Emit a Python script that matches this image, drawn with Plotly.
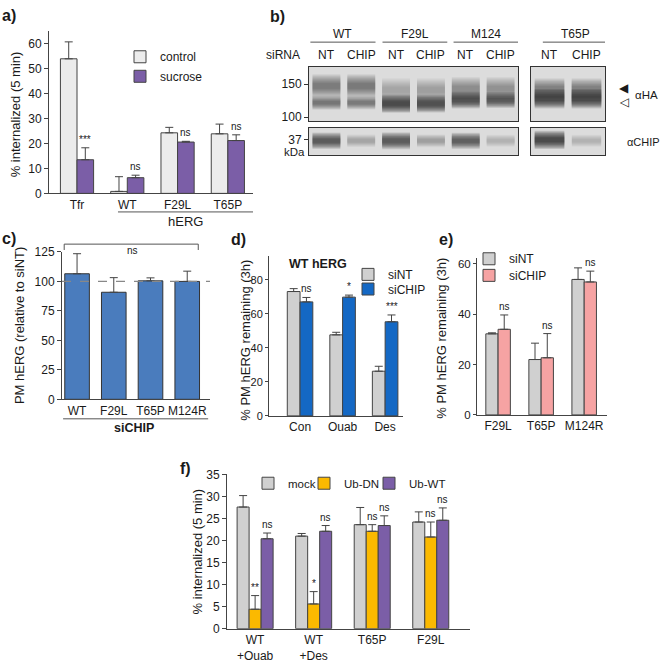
import plotly.graph_objects as go

W, H = 660, 663
FONT = "Liberation Sans, Arial, sans-serif"
AX = "#444444"
TXT = "#1a1a1a"


def X(px):
    return px / W


def Y(py):
    return 1 - py / H


# ---------------- data ----------------
# panel a
a_groups = ["Tfr", "WT", "F29L", "T65P"]
a_control = [54.0, 0.8, 24.3, 23.9]
a_control_err = [6.8, 5.9, 2.2, 3.9]
a_sucrose = [13.5, 6.3, 20.6, 21.2]
a_sucrose_err = [4.8, 1.0, 0.3, 2.3]
a_sig = ["***", "ns", "ns", "ns"]

# panel b (western blot band estimates)
blot_lanes = ["NT", "CHIP", "NT", "CHIP", "NT", "CHIP"]
blot_constructs = ["WT", "F29L", "M124"]
t65p_lanes = ["NT", "CHIP"]
ha_upper_kda = [147, 147, 141, 141, 143, 143]
ha_upper_int = [0.5, 0.55, 0.25, 0.3, 0.4, 0.35]
ha_lower_kda = [122, 122, 120.5, 120.5, 126, 126]
ha_lower_int = [0.6, 0.55, 1.0, 0.95, 0.9, 0.8]
t65p_upper_kda = [143, 143]
t65p_upper_int = [0.45, 0.45]
t65p_lower_kda = [128, 128]
t65p_lower_int = [1.0, 1.0]
chip_kda = [36.4, 36.4, 36.4, 36.4, 36.4, 36.4]
chip_int = [0.8, 0.25, 0.85, 0.3, 0.75, 0.2]
t65p_chip_kda = [36.8, 36.4]
t65p_chip_int = [1.0, 0.2]
mw_ticks_ha = [100, 150]
mw_ticks_chip = [37]

# panel c
c_groups = ["WT", "F29L", "T65P", "M124R"]
c_vals = [106.5, 90.8, 100.5, 100.0]
c_err = [17.0, 12.4, 2.5, 8.7]

# panel d
d_groups = ["Con", "Ouab", "Des"]
d_sint = [73.2, 47.7, 26.3]
d_sint_err = [1.7, 1.5, 2.9]
d_sichip = [67.1, 69.9, 55.4]
d_sichip_err = [2.6, 1.2, 4.0]
d_sig = ["ns", "*", "***"]

# panel e
e_groups = ["F29L", "T65P", "M124R"]
e_sint = [32.2, 22.0, 53.8]
e_sint_err = [0.4, 6.5, 4.6]
e_sichip = [34.0, 22.7, 52.8]
e_sichip_err = [5.7, 9.6, 4.3]
e_sig = ["ns", "ns", "ns"]

# panel f
f_groups = ["WT<br>+Ouab", "WT<br>+Des", "T65P", "F29L"]
f_mock = [27.6, 21.0, 23.6, 24.2]
f_mock_err = [2.6, 0.6, 3.9, 2.3]
f_dn = [4.4, 5.6, 22.1, 20.8]
f_dn_err = [3.1, 2.8, 1.5, 3.4]
f_wt = [20.4, 22.1, 23.4, 24.6]
f_wt_err = [1.3, 1.3, 2.2, 2.8]
f_sig_dn = ["**", "*", "ns", "ns"]
f_sig_wt = ["ns", "ns", "ns", "ns"]

# ---------------- colours ----------------
C_LIGHT = "#ececec"
C_PURPLE = "#7b5ea7"
C_BLUE_C = "#4a7cbd"
C_GRAY = "#d0d0d0"
C_BLUE_D = "#1468c4"
C_PINK = "#f6a3a3"
C_GOLD = "#fbb900"

fig = go.Figure()
annotations = []
shapes = []


def add_bars(cats, vals, errs, color, xa, ya, offset, width, name, legend, edge=AX):
    fig.add_trace(go.Bar(
        x=cats, y=vals, name=name, legend=legend, showlegend=legend is not None,
        offset=offset, width=width,
        marker=dict(color=color, line=dict(color=edge, width=1)),
        error_y=dict(type="data", array=errs, arrayminus=[0] * len(errs),
                     symmetric=False, color=AX, thickness=1, width=4),
        xaxis=xa, yaxis=ya, hoverinfo="skip"))


def add_sig(labels, vals, errs, offset, width, xa, ya, size=10):
    for i, (lab, v, e) in enumerate(zip(labels, vals, errs)):
        if not lab:
            continue
        annotations.append(dict(
            text=lab, x=i + offset + width / 2, y=v + e, xref=xa, yref=ya,
            yanchor="bottom", xanchor="center", showarrow=False, yshift=1,
            font=dict(size=size, color=TXT, family=FONT)))


# ---- panel a
add_bars(a_groups, a_control, a_control_err, C_LIGHT, "x", "y", -0.33, 0.33, "control", "legend")
add_bars(a_groups, a_sucrose, a_sucrose_err, C_PURPLE, "x", "y", 0.0, 0.33, "sucrose", "legend2")
add_sig(a_sig, a_sucrose, a_sucrose_err, 0.0, 0.33, "x", "y")

# ---- panel b bands (soft, layered strokes)
N_LAYERS = 10
BAND_LAYERS = [(2.6 - 2.0 * k / (N_LAYERS - 1), 0.075) for k in range(N_LAYERS)]


def band(xa, ya, lane, kda, inten, thick, halfw=0.4):
    for wmul, amul in BAND_LAYERS:
        fig.add_trace(go.Scatter(
            x=[lane - halfw, lane + halfw], y=[kda, kda], mode="lines",
            line=dict(color=f"rgba(25,25,25,{min(inten * amul * 1.6, 1):.3f})", width=thick * wmul),
            xaxis=xa, yaxis=ya, showlegend=False, hoverinfo="skip"))


for i, _ in enumerate(blot_lanes):
    band("x2", "y2", i, ha_upper_kda[i], ha_upper_int[i], 9)
    band("x2", "y2", i, ha_lower_kda[i], ha_lower_int[i], 3 + 4 * ha_lower_int[i])
    band("x4", "y4", i, chip_kda[i], chip_int[i], 4 + 3 * chip_int[i])
for i, _ in enumerate(t65p_lanes):
    band("x3", "y3", i, t65p_upper_kda[i], t65p_upper_int[i], 8)
    band("x3", "y3", i, t65p_lower_kda[i], t65p_lower_int[i], 3 + 4.5 * t65p_lower_int[i])
    band("x5", "y5", i, t65p_chip_kda[i], t65p_chip_int[i], 4 + 3 * t65p_chip_int[i])

# ---- panel c
add_bars(c_groups, c_vals, c_err, C_BLUE_C, "x6", "y6", -0.335, 0.67, "siCHIP", None, edge="#333333")

# ---- panel d
add_bars(d_groups, d_sint, d_sint_err, C_GRAY, "x7", "y7", -0.30, 0.30, "siNT", "legend3")
add_bars(d_groups, d_sichip, d_sichip_err, C_BLUE_D, "x7", "y7", 0.0, 0.30, "siCHIP", "legend4")
add_sig(d_sig, d_sichip, d_sichip_err, 0.0, 0.30, "x7", "y7")

# ---- panel e
add_bars(e_groups, e_sint, e_sint_err, C_GRAY, "x8", "y8", -0.285, 0.285, "siNT", "legend5")
add_bars(e_groups, e_sichip, e_sichip_err, C_PINK, "x8", "y8", 0.0, 0.285, "siCHIP", "legend6")
add_sig(e_sig, e_sichip, e_sichip_err, 0.0, 0.285, "x8", "y8")

# ---- panel f
add_bars(f_groups, f_mock, f_mock_err, C_GRAY, "x9", "y9", -0.3075, 0.205, "mock", "legend7")
add_bars(f_groups, f_dn, f_dn_err, C_GOLD, "x9", "y9", -0.1025, 0.205, "Ub-DN", "legend8")
add_bars(f_groups, f_wt, f_wt_err, C_PURPLE, "x9", "y9", 0.1025, 0.205, "Ub-WT", "legend9")
add_sig(f_sig_dn, f_dn, f_dn_err, -0.1025, 0.205, "x9", "y9")
add_sig(f_sig_wt, f_wt, f_wt_err, 0.1025, 0.205, "x9", "y9")

# ---------------- axes ----------------
def yax(domain_px, rng, dtick, anchor, size=12, ticklen=4):
    return dict(domain=[Y(domain_px[1]), Y(domain_px[0])], range=rng, anchor=anchor,
                showline=True, linecolor=AX, linewidth=1, ticks="outside", ticklen=ticklen,
                tickcolor=AX, showgrid=False, zeroline=False, dtick=dtick, tick0=0,
                tickfont=dict(size=size, color=TXT, family=FONT))


def xax(domain_px, rng, cats, anchor, size=12):
    return dict(domain=[X(domain_px[0]), X(domain_px[1])], range=rng, anchor=anchor,
                type="category", categoryorder="array", categoryarray=cats,
                showline=True, linecolor=AX, linewidth=1, ticks="", showgrid=False,
                zeroline=False, tickfont=dict(size=size, color=TXT, family=FONT))


def blot_x(domain_px, rng, anchor):
    return dict(domain=[X(domain_px[0]), X(domain_px[1])], range=rng, anchor=anchor,
                showline=True, mirror=True, linecolor="#333333", linewidth=1,
                ticks="", showticklabels=False, showgrid=False, zeroline=False)


def blot_y(domain_px, rng, anchor, tickvals=None):
    d = dict(domain=[Y(domain_px[1]), Y(domain_px[0])], range=rng, anchor=anchor,
             showline=True, mirror=True, linecolor="#333333", linewidth=1,
             showgrid=False, zeroline=False)
    if tickvals:
        d.update(tickvals=tickvals, ticks="outside", ticklen=4, tickcolor="#333333",
                 tickfont=dict(size=12, color=TXT, family=FONT))
    else:
        d.update(ticks="", showticklabels=False)
    return d


layout_axes = dict(
    xaxis=xax((49, 253), [-0.557, 3.5], a_groups, "y"),
    yaxis=yax((25, 191), [0, 65], 10, "x"),
    xaxis2=blot_x((309, 518), [-0.5, 5.5], "y2"),
    yaxis2=blot_y((61, 117), [94, 176.5], "x2", mw_ticks_ha),
    xaxis3=blot_x((531, 605), [-0.5, 1.5], "y3"),
    yaxis3=blot_y((61, 117), [94, 176.5], "x3"),
    xaxis4=blot_x((309, 518), [-0.5, 5.5], "y4"),
    yaxis4=blot_y((124, 152), [30, 42], "x4", mw_ticks_chip),
    xaxis5=blot_x((531, 605), [-0.5, 1.5], "y5"),
    yaxis5=blot_y((124, 152), [30, 42], "x5"),
    xaxis6=xax((62, 210), [-0.41, 3.62], c_groups, "y6"),
    yaxis6=yax((251, 402), [0, 125], 25, "x6"),
    xaxis7=xax((269, 403), [-0.73, 2.42], d_groups, "y7"),
    yaxis7=yax((255, 419), [0, 94.2], 20, "x7", size=11, ticklen=3),
    xaxis8=xax((477, 607), [-0.49, 2.53], e_groups, "y8"),
    yaxis8=yax((257, 418), [0, 62.4], 20, "x8", size=11.5, ticklen=3),
    xaxis9=xax((227, 470), [-0.48, 3.67], f_groups, "y9", size=12),
    yaxis9=yax((479, 637), [0, 35], 5, "x9"),
)

# blot backgrounds
for xa, ya in [("x2", "y2"), ("x3", "y3"), ("x4", "y4"), ("x5", "y5")]:
    shapes.append(dict(type="rect", xref=f"{xa} domain", yref=f"{ya} domain",
                       x0=0, x1=1, y0=0, y1=1, fillcolor="#dcdcdc",
                       line=dict(width=0), layer="below"))


def line_shape(xref, x0, x1, y0, y1, color="#555555", width=1, dash=None, yref="paper"):
    d = dict(type="line", xref=xref, yref=yref, x0=x0, x1=x1, y0=y0, y1=y1,
             line=dict(color=color, width=width))
    if dash:
        d["line"]["dash"] = dash
    return d


def text(t, x, y, size=12, xref="paper", yref="paper", xanchor="center",
         yanchor="middle", bold=False, angle=0, family=FONT):
    annotations.append(dict(text=f"<b>{t}</b>" if bold else t, x=x, y=y, xref=xref, yref=yref,
                            xanchor=xanchor, yanchor=yanchor, showarrow=False, textangle=angle,
                            borderpad=0,
                            font=dict(size=size, color=TXT, family=family)))


# panel labels
text("a)", X(1), Y(9), size=16, xanchor="left", bold=True)
text("b)", X(269), Y(10), size=16, xanchor="left", bold=True)
text("c)", X(1), Y(237), size=16, xanchor="left", bold=True)
text("d)", X(230), Y(238), size=16, xanchor="left", bold=True)
text("e)", X(438), Y(238), size=16, xanchor="left", bold=True)
text("f)", X(179), Y(473), size=16, xanchor="left", bold=True)

# y titles
text("% internalized (5 min)", X(15), Y(110), size=13, angle=-90)
text("PM hERG (relative to siNT)", X(19), Y(327), size=13, angle=-90)
text("% PM hERG remaining (3h)", X(246), Y(342), size=13, angle=-90)
text("% PM hERG remaining (3h)", X(442), Y(340), size=13, angle=-90)
text("% internalized (5 min)", X(198), Y(558), size=13, angle=-90)

# panel a grouping
shapes.append(line_shape("x", 0.815, 3.5, Y(210), Y(210)))
text("hERG", 2.15, Y(220), size=13, xref="x")

# panel b labels
text("siRNA", X(283), Y(49), size=12)
for i, lab in enumerate(blot_lanes):
    text(lab, i, Y(49), size=12, xref="x2")
for i, lab in enumerate(t65p_lanes):
    text(lab, i, Y(49), size=12, xref="x3")
header_spans = [(-0.46, 1.41), (1.61, 3.47), (3.65, 5.5)]
for name, (s0, s1) in zip(blot_constructs, header_spans):
    text(name, (s0 + s1) / 2, Y(28), size=12, xref="x2")
    shapes.append(line_shape("x2", s0, s1, Y(36), Y(36)))
text("T65P", 0.7, Y(28), size=12, xref="x3")
shapes.append(line_shape("x3", -0.18, 1.57, Y(36), Y(36)))
text("kDa", X(306), Y(149), size=11.5, xanchor="right")
text("◀", X(624), 144, size=12, xref="paper", yref="y3", family="DejaVu Sans")
text("◁", X(624), 123.5, size=12, xref="paper", yref="y3", family="DejaVu Sans")
text("αHA", X(634), Y(90), size=11.5, xanchor="left")
text("αCHIP", X(626), Y(138), size=11, xanchor="left")

# panel c decorations
shapes.append(line_shape("x6 domain", 0, 1, 100, 100, color="#888888", width=1.2,
                         dash="dash", yref="y6"))
shapes.append(line_shape("x6", -0.35, 3.3, Y(243), Y(243)))
shapes.append(line_shape("x6", -0.35, -0.35, Y(243), Y(249)))
shapes.append(line_shape("x6", 3.3, 3.3, Y(243), Y(249)))
text("ns", 1.5, Y(250), size=10, xref="x6")
shapes.append(line_shape("x6", -0.38, 3.57, Y(422), Y(422)))
text("siCHIP", 1.55, Y(431), size=12.5, xref="x6", bold=True)

# panel d title
text("WT hERG", X(288), Y(263), size=12.5, xanchor="left", bold=True)


def leg(swatch_left, cy, size=12):
    return dict(x=X(swatch_left - 14), y=Y(cy), xanchor="left", yanchor="middle",
                bgcolor="rgba(0,0,0,0)", borderwidth=0, tracegroupgap=0,
                font=dict(size=size, color=TXT, family=FONT))


fig.update_layout(
    width=W, height=H, margin=dict(l=0, r=0, t=0, b=0),
    paper_bgcolor="white", plot_bgcolor="white",
    barmode="overlay", showlegend=True,
    font=dict(family=FONT, color=TXT, size=12),
    annotations=annotations, shapes=shapes,
    legend=leg(134, 51), legend2=leg(134, 71),
    legend3=leg(362, 274), legend4=leg(362, 289),
    legend5=leg(483, 258), legend6=leg(483, 275),
    legend7=leg(262, 488, 11.5), legend8=leg(318, 488, 11.5), legend9=leg(383, 488, 11.5),
    **layout_axes,
)

# remove the default page margin so the 660x663 figure fills the window exactly
fig.write_html("out.html", config={"displayModeBar": False},
               post_script="document.body.style.margin='0';")
